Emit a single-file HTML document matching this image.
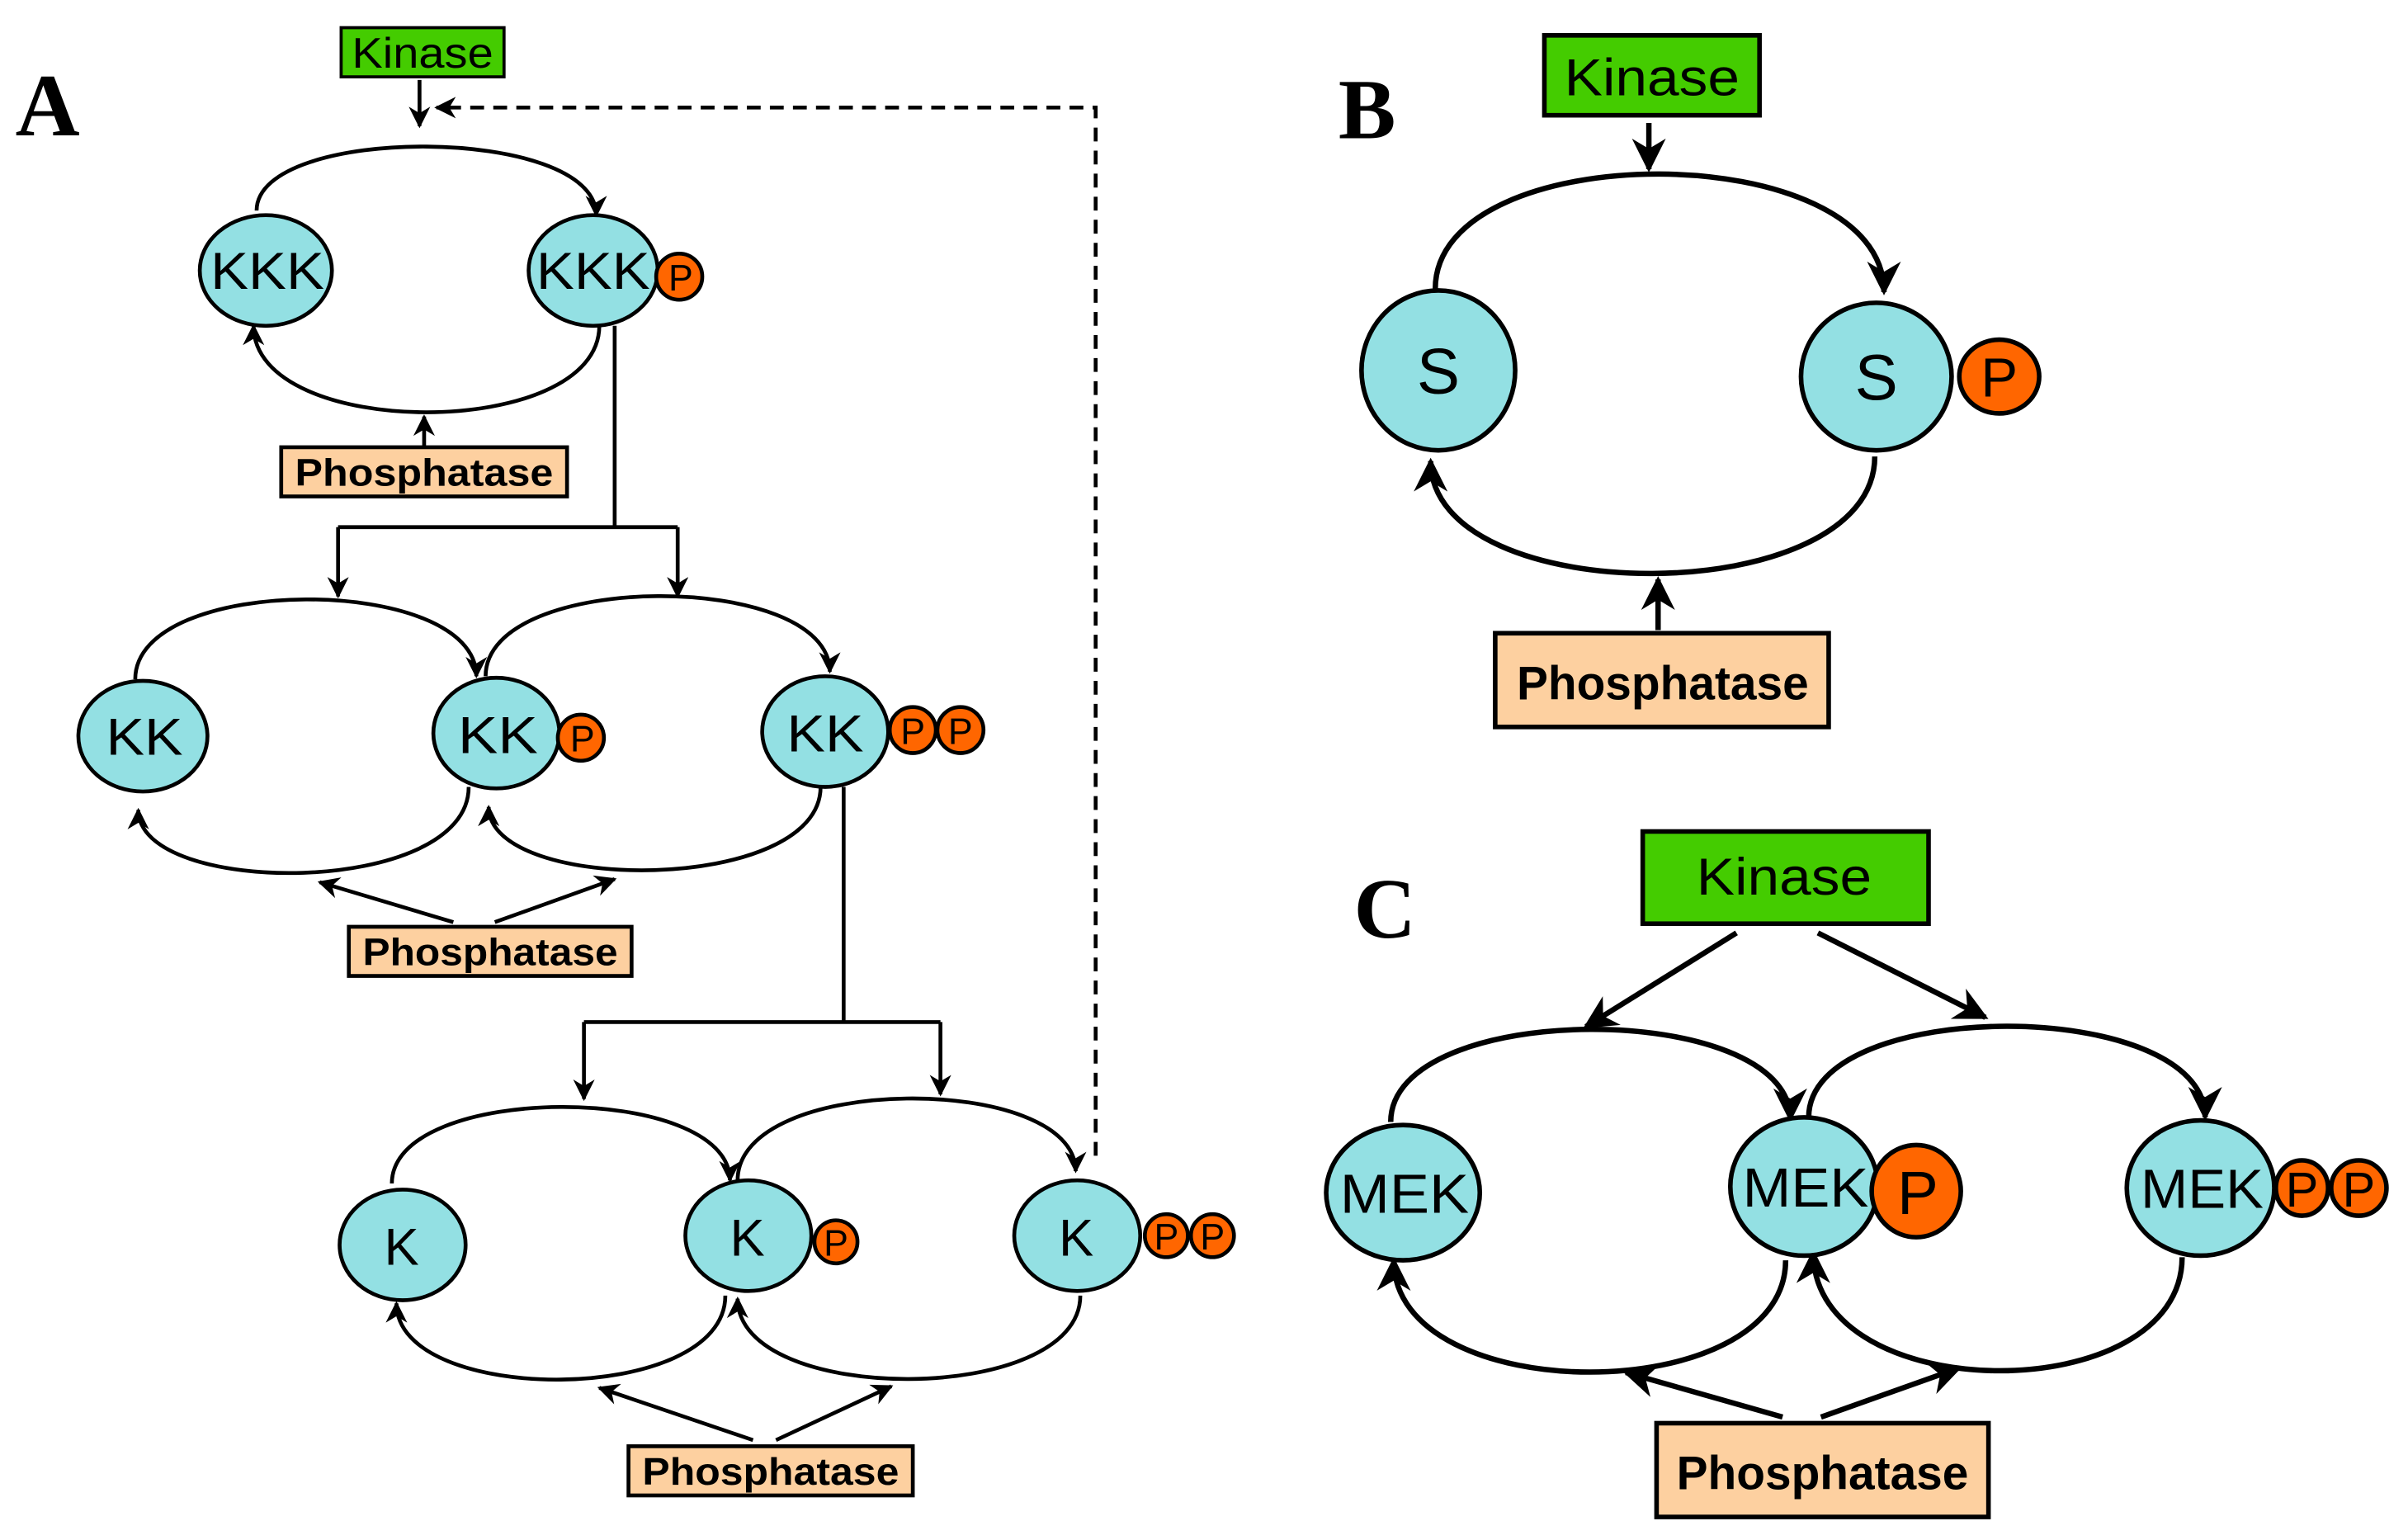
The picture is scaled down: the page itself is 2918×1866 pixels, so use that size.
<!DOCTYPE html>
<html><head><meta charset="utf-8"><style>
html,body{margin:0;padding:0;background:#fff;}
svg{display:block;}
text{font-family:"Liberation Sans",sans-serif;}
</style></head><body>
<svg width="2918" height="1866" viewBox="0 0 1567 1002" preserveAspectRatio="none" xmlns="http://www.w3.org/2000/svg">
<defs>
<marker id="as" markerUnits="userSpaceOnUse" markerWidth="14" markerHeight="14" viewBox="0 0 10 10" refX="9" refY="5" orient="auto"><path d="M0,0 L10,5 L0,10 L3,5 z" fill="#000"/></marker>
<marker id="al" markerUnits="userSpaceOnUse" markerWidth="22" markerHeight="22" viewBox="0 0 10 10" refX="9" refY="5" orient="auto"><path d="M0,0 L10,5 L0,10 L3,5 z" fill="#000"/></marker>
</defs>
<rect width="1567" height="1002" fill="#fff"/>

<!-- Panel A -->
<text x="10" y="88" font-weight="bold" font-size="58" style="font-family:'Liberation Serif',serif">A</text>
<rect x="222" y="18" width="106" height="32" fill="#44cc00" stroke="#000" stroke-width="2"/>
<text x="229" y="44" font-size="28" textLength="92" lengthAdjust="spacingAndGlyphs">Kinase</text>
<g fill="none" stroke="#000" stroke-width="2.5">
<path d="M273 52 L273 82" marker-end="url(#as)"/>
<path d="M713 752 L713 70 L284 70" stroke-dasharray="9,6" marker-end="url(#as)"/>
<path d="M167 137 C167 81 388 81 388 140" marker-end="url(#as)"/>
<path d="M390 212 C390 287 165 287 165 212" marker-end="url(#as)"/>
<path d="M276 291 L276 271" marker-end="url(#as)"/>
<path d="M400 212 L400 343 M220 343 L441 343"/>
<path d="M220 343 L220 388" marker-end="url(#as)"/>
<path d="M441 343 L441 388" marker-end="url(#as)"/>
<path d="M88 442 C88 373 310 373 310 440" marker-end="url(#as)"/>
<path d="M316 440 C316 371 540 371 540 437" marker-end="url(#as)"/>
<path d="M305 512 C305 584 90 584 90 527" marker-end="url(#as)"/>
<path d="M534 512 C534 582 318 582 318 525" marker-end="url(#as)"/>
<path d="M295 600 L208 574" marker-end="url(#as)"/>
<path d="M322 600 L400 572" marker-end="url(#as)"/>
<path d="M549 512 L549 665 M380 665 L612 665"/>
<path d="M380 665 L380 715" marker-end="url(#as)"/>
<path d="M612 665 L612 712" marker-end="url(#as)"/>
<path d="M255 770 C255 704 475 704 475 768" marker-end="url(#as)"/>
<path d="M480 768 C480 698 700 698 700 762" marker-end="url(#as)"/>
<path d="M472 843 C472 915 258 915 258 848" marker-end="url(#as)"/>
<path d="M703 843 C703 915 480 915 480 845" marker-end="url(#as)"/>
<path d="M490 937 L390 903" marker-end="url(#as)"/>
<path d="M505 937 L580 902" marker-end="url(#as)"/>
</g>
<g stroke="#000" stroke-width="2.5">
<ellipse cx="173" cy="176" rx="43" ry="36" fill="#93e0e3"/>
<ellipse cx="386" cy="176" rx="42" ry="36" fill="#93e0e3"/>
<ellipse cx="442" cy="180" rx="15" ry="15" fill="#ff6600"/>
<ellipse cx="93" cy="479" rx="42" ry="36" fill="#93e0e3"/>
<ellipse cx="323" cy="477" rx="41" ry="36" fill="#93e0e3"/>
<ellipse cx="378" cy="480" rx="15" ry="15" fill="#ff6600"/>
<ellipse cx="537" cy="476" rx="41" ry="36" fill="#93e0e3"/>
<ellipse cx="594" cy="475" rx="15" ry="15" fill="#ff6600"/>
<ellipse cx="625" cy="475" rx="15" ry="15" fill="#ff6600"/>
<ellipse cx="262" cy="810" rx="41" ry="36" fill="#93e0e3"/>
<ellipse cx="487" cy="804" rx="41" ry="36" fill="#93e0e3"/>
<ellipse cx="544" cy="808" rx="14" ry="14" fill="#ff6600"/>
<ellipse cx="701" cy="804" rx="41" ry="36" fill="#93e0e3"/>
<ellipse cx="759" cy="804" rx="14" ry="14" fill="#ff6600"/>
<ellipse cx="789" cy="804" rx="14" ry="14" fill="#ff6600"/>
</g>
<g font-size="34">
<text x="137" y="188" textLength="74" lengthAdjust="spacingAndGlyphs">KKK</text>
<text x="349" y="188" textLength="74" lengthAdjust="spacingAndGlyphs">KKK</text>
<text x="69" y="491" textLength="50" lengthAdjust="spacingAndGlyphs">KK</text>
<text x="298" y="490" textLength="52" lengthAdjust="spacingAndGlyphs">KK</text>
<text x="512" y="489" textLength="50" lengthAdjust="spacingAndGlyphs">KK</text>
<text x="250" y="823">K</text>
<text x="475" y="817">K</text>
<text x="689" y="817">K</text>
</g>
<g font-size="24" text-anchor="middle">
<text x="443" y="189">P</text><text x="379" y="489">P</text>
<text x="594" y="484">P</text><text x="625" y="484">P</text>
<text x="544" y="817">P</text><text x="759" y="813">P</text><text x="789" y="813">P</text>
</g>
<g stroke="#000" stroke-width="2.5" fill="#fdd0a0">
<rect x="183" y="291" width="186" height="32"/>
<rect x="227" y="603" width="184" height="32"/>
<rect x="409" y="941" width="185" height="32"/>
</g>
<g font-size="25" font-weight="bold">
<text x="192" y="316" textLength="168" lengthAdjust="spacingAndGlyphs">Phosphatase</text>
<text x="236" y="628" textLength="166" lengthAdjust="spacingAndGlyphs">Phosphatase</text>
<text x="418" y="966" textLength="167" lengthAdjust="spacingAndGlyphs">Phosphatase</text>
</g>

<!-- Panel B -->
<text x="871" y="90" font-weight="bold" font-size="56" style="font-family:'Liberation Serif',serif">B</text>
<rect x="1005" y="23" width="140" height="52" fill="#44cc00" stroke="#000" stroke-width="3"/>
<text x="1018" y="62" font-size="34" textLength="114" lengthAdjust="spacingAndGlyphs">Kinase</text>
<g fill="none" stroke="#000" stroke-width="3.5">
<path d="M1073 80 L1073 110" marker-end="url(#al)"/>
<path d="M934 188 C934 88 1226 88 1226 190" marker-end="url(#al)"/>
<path d="M1220 297 C1220 398 931 398 931 300" marker-end="url(#al)"/>
<path d="M1079 410 L1079 377" marker-end="url(#al)"/>
</g>
<g stroke="#000" stroke-width="3">
<ellipse cx="936" cy="241" rx="50" ry="52" fill="#93e0e3"/>
<ellipse cx="1221" cy="245" rx="49" ry="48" fill="#93e0e3"/>
<ellipse cx="1301" cy="245" rx="26" ry="24" fill="#ff6600"/>
</g>
<g font-size="42" text-anchor="middle">
<text x="936" y="256">S</text><text x="1221" y="260">S</text>
</g>
<text x="1301" y="258" font-size="36" text-anchor="middle">P</text>
<rect x="973" y="412" width="217" height="61" fill="#fdd0a0" stroke="#000" stroke-width="3"/>
<text x="987" y="455" font-size="31" font-weight="bold" textLength="190" lengthAdjust="spacingAndGlyphs">Phosphatase</text>

<!-- Panel C -->
<text x="881" y="610" font-weight="bold" font-size="56" style="font-family:'Liberation Serif',serif">C</text>
<rect x="1069" y="541" width="186" height="60" fill="#44cc00" stroke="#000" stroke-width="3"/>
<text x="1104" y="582" font-size="34" textLength="114" lengthAdjust="spacingAndGlyphs">Kinase</text>
<g fill="none" stroke="#000" stroke-width="3.5">
<path d="M1130 607 L1032 668" marker-end="url(#al)"/>
<path d="M1183 607 L1292 662" marker-end="url(#al)"/>
<path d="M905 730 C905 650 1165 650 1165 728" marker-end="url(#al)"/>
<path d="M1177 727 C1177 648 1435 648 1435 727" marker-end="url(#al)"/>
<path d="M1162 820 C1162 917 907 917 907 820" marker-end="url(#al)"/>
<path d="M1420 818 C1420 917 1180 917 1180 815" marker-end="url(#al)"/>
<path d="M1160 922 L1058 893" marker-end="url(#al)"/>
<path d="M1185 922 L1275 890" marker-end="url(#al)"/>
</g>
<g stroke="#000" stroke-width="3">
<ellipse cx="913" cy="776" rx="50" ry="44" fill="#93e0e3"/>
<ellipse cx="1174" cy="772" rx="48" ry="45" fill="#93e0e3"/>
<ellipse cx="1247" cy="775" rx="29" ry="30" fill="#ff6600"/>
<ellipse cx="1432" cy="773" rx="48" ry="44" fill="#93e0e3"/>
<ellipse cx="1498" cy="773" rx="17" ry="18" fill="#ff6600"/>
<ellipse cx="1535" cy="773" rx="18" ry="18" fill="#ff6600"/>
</g>
<g font-size="36">
<text x="872" y="789" textLength="84" lengthAdjust="spacingAndGlyphs">MEK</text>
<text x="1134" y="785" textLength="82" lengthAdjust="spacingAndGlyphs">MEK</text>
<text x="1393" y="786" textLength="80" lengthAdjust="spacingAndGlyphs">MEK</text>
</g>
<text x="1248" y="790" font-size="40" text-anchor="middle">P</text>
<text x="1498" y="785" font-size="32" text-anchor="middle">P</text>
<text x="1535" y="785" font-size="32" text-anchor="middle">P</text>
<rect x="1078" y="926" width="216" height="61" fill="#fdd0a0" stroke="#000" stroke-width="3"/>
<text x="1091" y="969" font-size="31" font-weight="bold" textLength="190" lengthAdjust="spacingAndGlyphs">Phosphatase</text>
</svg>
</body></html>
